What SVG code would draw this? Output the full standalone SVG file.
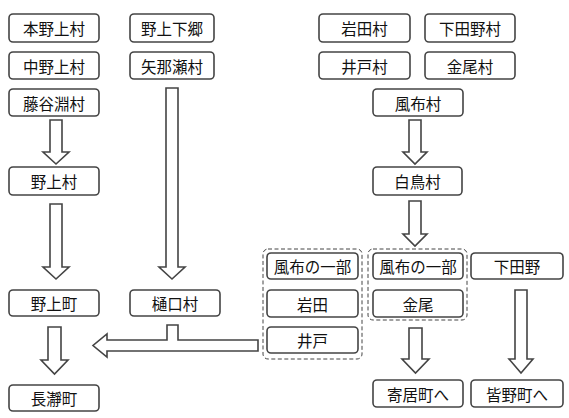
<svg xmlns="http://www.w3.org/2000/svg" width="569" height="418" viewBox="0 0 569 418">
<style>
.b rect{fill:#fff;stroke:#444;stroke-width:1.6}
.b text{font-family:"Noto Sans CJK JP","Noto Sans CJK SC",sans-serif;font-size:15.5px;fill:#111;text-anchor:middle;dominant-baseline:central}
.g{fill:none;stroke:#444;stroke-width:1;stroke-dasharray:4 2.5}
.a{fill:#fff;stroke:#444;stroke-width:1.6;stroke-linejoin:miter}
</style>
<rect width="569" height="418" fill="#fff"/>
<g id="groups">
<rect class="g" x="263" y="249" width="99" height="110" rx="5"/>
<rect class="g" x="368" y="249" width="99" height="71" rx="5"/>
</g>
<g id="connectors">
<polygon class="a" points="50,120 62,120 62,152 69,152 56,164 43,152 50,152"/>
<polygon class="a" points="50,204 62,204 62,267 69,267 56,279 43,267 50,267"/>
<polygon class="a" points="48,327 61,327 61,360 68,360 54.5,374 41,360 48,360"/>
<polygon class="a" points="166,88 178,88 178,267 185,267 172,279 159,267 166,267"/>
<polygon class="a" points="258,340 178,340 178,325 167,325 167,340 107,340 107,334 93,345.5 107,357 107,351 258,351"/>
<polygon class="a" points="409,120 421,120 421,152 427,152 415,164 403,152 409,152"/>
<polygon class="a" points="409,201 421,201 421,234 427,234 415,246 403,234 409,234"/>
<polygon class="a" points="409,328 422,328 422,359 429,359 415.5,373 402,359 409,359"/>
<polygon class="a" points="515,290 527,290 527,359 533,359 521,373 509,359 515,359"/>
</g>
<g id="n1" class="b"><rect x="9" y="14" width="90" height="28" rx="4"/><text x="54" y="28">本野上村</text></g>
<g id="n2" class="b"><rect x="9" y="52" width="90" height="27" rx="4"/><text x="54" y="65.5">中野上村</text></g>
<g id="n3" class="b"><rect x="9" y="89" width="90" height="27" rx="4"/><text x="54" y="102.5">藤谷淵村</text></g>
<g id="n4" class="b"><rect x="9" y="167" width="90" height="28" rx="4"/><text x="54" y="181">野上村</text></g>
<g id="n5" class="b"><rect x="9" y="290" width="90" height="26" rx="4"/><text x="54" y="303">野上町</text></g>
<g id="n6" class="b"><rect x="9" y="385" width="90" height="26" rx="4"/><text x="54" y="398">長瀞町</text></g>
<g id="n7" class="b"><rect x="130" y="14" width="84" height="28" rx="4"/><text x="172" y="28">野上下郷</text></g>
<g id="n8" class="b"><rect x="130" y="52" width="84" height="27" rx="4"/><text x="172" y="65.5">矢那瀬村</text></g>
<g id="n9" class="b"><rect x="130" y="290" width="90" height="26" rx="4"/><text x="175" y="303">樋口村</text></g>
<g id="n10" class="b"><rect x="319" y="14" width="91" height="28" rx="4"/><text x="364.5" y="28">岩田村</text></g>
<g id="n11" class="b"><rect x="425" y="14" width="90" height="28" rx="4"/><text x="470" y="28">下田野村</text></g>
<g id="n12" class="b"><rect x="319" y="52" width="91" height="27" rx="4"/><text x="364.5" y="65.5">井戸村</text></g>
<g id="n13" class="b"><rect x="425" y="52" width="90" height="27" rx="4"/><text x="470" y="65.5">金尾村</text></g>
<g id="n14" class="b"><rect x="373" y="89" width="90" height="27" rx="4"/><text x="418" y="102.5">風布村</text></g>
<g id="n15" class="b"><rect x="373" y="167" width="89" height="28" rx="4"/><text x="417.5" y="181">白鳥村</text></g>
<g id="n16" class="b"><rect x="267" y="253" width="91" height="26" rx="4"/><text x="312.5" y="266">風布の一部</text></g>
<g id="n17" class="b"><rect x="267" y="290" width="91" height="27" rx="4"/><text x="312.5" y="303.5">岩田</text></g>
<g id="n18" class="b"><rect x="267" y="327" width="91" height="26" rx="4"/><text x="312.5" y="340">井戸</text></g>
<g id="n19" class="b"><rect x="373" y="253" width="90" height="26" rx="4"/><text x="418" y="266">風布の一部</text></g>
<g id="n20" class="b"><rect x="373" y="290" width="90" height="27" rx="4"/><text x="418" y="303.5">金尾</text></g>
<g id="n21" class="b"><rect x="471" y="253" width="92" height="26" rx="4"/><text x="517" y="266">下田野</text></g>
<g id="n22" class="b"><rect x="373" y="380" width="90" height="27" rx="4"/><text x="418" y="393.5">寄居町へ</text></g>
<g id="n23" class="b"><rect x="471" y="380" width="92" height="27" rx="4"/><text x="517" y="393.5">皆野町へ</text></g>
</svg>
